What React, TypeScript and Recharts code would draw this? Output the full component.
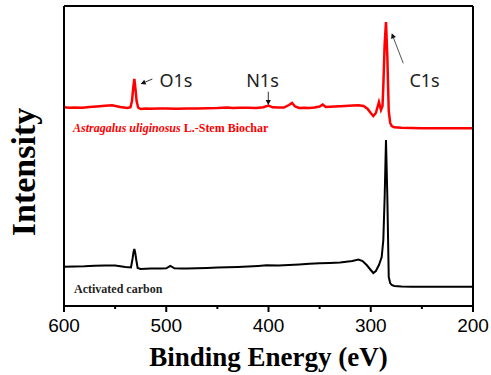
import React from 'react';
import { LineChart, Line, XAxis, YAxis, ReferenceLine, ReferenceDot } from 'recharts';

// Binding energy (eV) and intensity (a.u.)
const biocharEnergy = [600, 595, 590, 582, 575, 568, 560, 553, 545, 538, 535, 533.5, 532.3, 531.2, 530.2, 529, 527.5, 525, 520, 515, 508, 500, 490, 480, 470, 460, 450, 440, 435, 428, 420, 412, 405, 400, 396, 390, 385, 380, 377, 374, 370, 365, 360, 355, 350, 347, 344, 340, 335, 330, 325, 318, 312, 307, 303, 300, 297.5, 295, 292, 290, 288.5, 287.7, 286.4, 285.1, 283.8, 282.4, 281, 279.5, 277, 270, 260, 250, 240, 230, 220, 210, 200];
const biocharIntensity = [198.7, 198.2, 198.6, 198.3, 199, 199.5, 200.2, 200.7, 199, 198, 198.8, 205, 218, 227, 218, 205, 198.5, 197, 197.5, 197.2, 197.4, 197.5, 197.3, 197.6, 197.5, 197.7, 197.9, 198.4, 198, 198.2, 198.3, 198.1, 198.7, 200.5, 198.7, 198.4, 198.5, 201, 203, 199.5, 198, 198.3, 198, 198.6, 199.5, 201.5, 199, 199.3, 199.5, 199.8, 200, 200.4, 200.7, 200, 197, 193, 190, 193, 204, 196, 200, 220, 262, 284, 250, 195, 183, 180, 178.7, 178.2, 178, 177.8, 177.8, 177.7, 177.7, 177.7, 177.7];

const carbonEnergy = [600, 590, 580, 570, 560, 550, 540, 534.5, 533, 532, 531.2, 530.3, 529.3, 528, 525, 515, 505, 500, 496, 492, 485, 480, 470, 460, 450, 440, 430, 420, 410, 402, 390, 380, 370, 360, 350, 340, 330, 318, 312, 308, 304, 300, 297.5, 295, 292, 289.3, 287.7, 286.4, 285.1, 283.8, 282.4, 281, 279.5, 277, 270, 260, 250, 240, 230, 220, 210, 200];
const carbonIntensity = [39.3, 39.5, 39.7, 40.2, 40.5, 40.6, 39, 38.5, 47, 54, 57, 53, 46, 38, 37, 37.5, 37.4, 37.7, 40, 37.7, 37.6, 37.5, 37.8, 38, 38.4, 38.7, 39.1, 39.5, 40.1, 40.7, 40.5, 41, 41.5, 42.2, 42.7, 43.1, 43.5, 45, 46.5, 45, 41, 36, 33, 35, 41, 49, 66, 109, 166, 110, 29, 23, 21, 20, 19.5, 19.3, 19.3, 19.3, 19.3, 19.3, 19.3, 19.3];

const majorTicks = [600, 500, 400, 300, 200];
const allTicks = [600, 550, 500, 450, 400, 350, 300, 250, 200];

const biocharData = biocharEnergy.map((e, i) => ({ e, v: biocharIntensity[i] }));
const carbonData = carbonEnergy.map((e, i) => ({ e, v: carbonIntensity[i] }));

const serif = '"Liberation Serif", "Times New Roman", serif';
const sans = '"Liberation Sans", Arial, sans-serif';
const annFont = '"Noto Sans", "Open Sans", sans-serif';

const XTick = (props: any) => {
  const { x, y, payload } = props;
  const isMajor = majorTicks.includes(payload.value);
  return (
    <g>
      <line x1={x} x2={x} y1={y} y2={y + (isMajor ? 6 : 3)} stroke="#000" strokeWidth={2} />
      {isMajor && (
        <text x={x} y={y + 26} textAnchor="middle" fontFamily={sans} fontSize={19} fill="#000">
          {payload.value}
        </text>
      )}
    </g>
  );
};

const arrowShape = (color: string) => (props: any) => {
  const { x1, y1, x2, y2 } = props;
  const dx = x2 - x1;
  const dy = y2 - y1;
  const len = Math.sqrt(dx * dx + dy * dy) || 1;
  const ux = dx / len;
  const uy = dy / len;
  const hl = 5;
  const hw = 2.6;
  const bx = x2 - ux * hl;
  const by = y2 - uy * hl;
  const pts = `${x2},${y2} ${bx - uy * hw},${by + ux * hw} ${bx + uy * hw},${by - ux * hw}`;
  return (
    <g>
      <line x1={x1} y1={y1} x2={bx} y2={by} stroke={color} strokeWidth={1} />
      <polygon points={pts} fill="#111" />
    </g>
  );
};

const textShape = (label: string) => (props: any) => (
  <text x={props.cx} y={props.cy} textAnchor="middle" dominantBaseline="central" fontFamily={annFont} fontSize={18} fill="#222">
    {label}
  </text>
);

const biocharLabel = (props: any) => (
  <text x={props.cx} y={props.cy} fontFamily={serif} fontSize={12} fontWeight="bold" fill="#ff0000">
    <tspan fontStyle="italic">Astragalus uliginosus</tspan>
    <tspan> L.-Stem Biochar</tspan>
  </text>
);

const carbonLabel = (props: any) => (
  <text x={props.cx} y={props.cy} fontFamily={serif} fontSize={12} fontWeight="bold" fill="#222">
    Activated carbon
  </text>
);

export default function App() {
  return (
    <div style={{ position: 'absolute', left: 0, top: 0, background: '#fff' }}>
      <LineChart width={491} height={375} data={biocharData} margin={{ top: 6, right: 0, bottom: 0, left: 0 }}>
        <XAxis
          xAxisId="x"
          dataKey="e"
          type="number"
          domain={[200, 600]}
          reversed
          ticks={allTicks}
          interval={0}
          height={69}
          tickSize={0}
          tickMargin={0}
          tickLine={false}
          tick={<XTick />}
          axisLine={{ stroke: '#000', strokeWidth: 2 }}
          allowDataOverflow
          label={{
            content: (p: any) => {
              const vb = p.viewBox;
              return (
                <text x={vb.x + vb.width / 2} y={vb.y + 60} textAnchor="middle" fontFamily={serif} fontWeight="bold" fontSize={27} fill="#000">
                  Binding Energy (eV)
                </text>
              );
            },
          }}
        />
        <YAxis
          yAxisId="left"
          type="number"
          domain={[0, 300]}
          width={64}
          tick={false}
          tickLine={false}
          axisLine={{ stroke: '#000', strokeWidth: 2 }}
          allowDataOverflow
          label={{
            content: () => (
              <text x={35} y={172} transform="rotate(-90, 35, 172)" textAnchor="middle" fontFamily={serif} fontWeight="bold" fontSize={34} fill="#000">
                Intensity
              </text>
            ),
          }}
        />
        <YAxis yAxisId="right" orientation="right" type="number" domain={[0, 300]} width={18} tick={false} tickLine={false} axisLine={{ stroke: '#000', strokeWidth: 2 }} />
        <ReferenceLine xAxisId="x" yAxisId="left" y={300} stroke="#000" strokeWidth={2} ifOverflow="visible" />
        <Line xAxisId="x" yAxisId="left" data={carbonData} dataKey="v" type="linear" stroke="#000" strokeWidth={2} dot={false} isAnimationActive={false} />
        <Line xAxisId="x" yAxisId="left" data={biocharData} dataKey="v" type="linear" stroke="#ff0000" strokeWidth={2.5} dot={false} isAnimationActive={false} />

        <ReferenceLine xAxisId="x" yAxisId="left" segment={[{ x: 513.6, y: 227 }, { x: 525, y: 222 }]} shape={arrowShape('#333')} ifOverflow="visible" />
        <ReferenceLine xAxisId="x" yAxisId="left" segment={[{ x: 400.2, y: 214.3 }, { x: 400.2, y: 201 }]} shape={arrowShape('#333')} ifOverflow="visible" />
        <ReferenceLine xAxisId="x" yAxisId="left" segment={[{ x: 268.2, y: 242.7 }, { x: 279.5, y: 272.7 }]} shape={arrowShape('#555')} ifOverflow="visible" />

        <ReferenceDot xAxisId="x" yAxisId="left" x={490.5} y={226} r={0} shape={textShape('O1s')} ifOverflow="visible" />
        <ReferenceDot xAxisId="x" yAxisId="left" x={405.9} y={226} r={0} shape={textShape('N1s')} ifOverflow="visible" />
        <ReferenceDot xAxisId="x" yAxisId="left" x={247.4} y={226} r={0} shape={textShape('C1s')} ifOverflow="visible" />
        <ReferenceDot xAxisId="x" yAxisId="left" x={591.2} y={173.7} r={0} shape={biocharLabel} ifOverflow="visible" />
        <ReferenceDot xAxisId="x" yAxisId="left" x={590.2} y={13.3} r={0} shape={carbonLabel} ifOverflow="visible" />
      </LineChart>
    </div>
  );
}
